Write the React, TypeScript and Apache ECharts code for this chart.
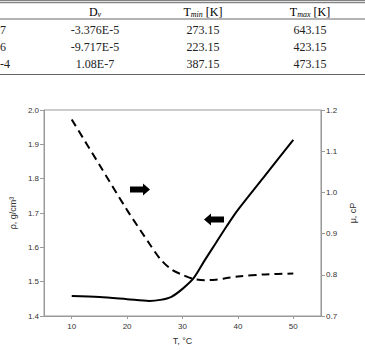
import React, { useEffect, useRef } from "react";
import * as echarts from "echarts";

// Table (top, partially cropped)
const tableLeftCol = ["7", "6", "-4"];
const tableDv = ["-3.376E-5", "-9.717E-5", "1.08E-7"];
const tableTmin = ["273.15", "223.15", "387.15"];
const tableTmax = ["643.15", "423.15", "473.15"];

// Chart data
const tempC = [10, 15, 20, 24, 26, 28, 30, 32, 34, 36, 38, 40, 45, 50];
const density = [1.458, 1.455, 1.449, 1.444, 1.447, 1.456, 1.479, 1.51, 1.562, 1.612, 1.662, 1.709, 1.811, 1.913];
const viscosity = [1.177, 1.067, 0.957, 0.876, 0.838, 0.813, 0.8, 0.79, 0.787, 0.788, 0.792, 0.796, 0.801, 0.803];
const xTicks = [10, 20, 30, 40, 50];

export default function App() {
  const ref = useRef<HTMLDivElement>(null);
  useEffect(() => {
    if (!ref.current) return;
    const chart = echarts.init(ref.current, null, { renderer: "svg" });
    const serif = "Liberation Serif";
    const sans = "Liberation Sans";
    const rowY = [30, 47, 64];
    const tText: any[] = [];
    const rich = {
      a: { fontFamily: serif, fontSize: 12, color: "#222" },
      s: { fontFamily: serif, fontSize: 8, fontStyle: "italic", color: "#222", padding: [5, 0, 0, 0] },
    };
    const header = [
      { x: 95, t: "{a|D}{s|v}" },
      { x: 203, t: "{a|T}{s|min}{a| [K]}" },
      { x: 310, t: "{a|T}{s|max}{a| [K]}" },
    ];
    header.forEach((h) =>
      tText.push({ type: "text", x: h.x, y: 12, style: { text: h.t, rich, align: "center", verticalAlign: "middle" } })
    );
    rowY.forEach((y, i) => {
      const st = { fontFamily: serif, fontSize: 12, fill: "#222", verticalAlign: "middle" };
      tText.push({ type: "text", x: 0, y, style: { ...st, text: tableLeftCol[i], align: "left" } });
      tText.push({ type: "text", x: 95, y, style: { ...st, text: tableDv[i], align: "center" } });
      tText.push({ type: "text", x: 203, y, style: { ...st, text: tableTmin[i], align: "center" } });
      tText.push({ type: "text", x: 310, y, style: { ...st, text: tableTmax[i], align: "center" } });
    });
    const hline = (y: number, w = 1) => ({
      type: "line",
      shape: { x1: 0, y1: y, x2: 365, y2: y },
      style: { stroke: "#666", lineWidth: w },
    });
    chart.setOption({
      animation: false,
      backgroundColor: "#fff",
      grid: { left: 40, right: 39, top: 110, bottom: 34, show: true, borderColor: "#999", borderWidth: 1 },
      xAxis: {
        type: "value",
        min: 5,
        max: 55,
        name: "T, °C",
        nameLocation: "middle",
        nameGap: 20,
        nameTextStyle: { fontFamily: sans, fontSize: 9, color: "#333" },
        axisLine: { lineStyle: { color: "#999" } },
        axisTick: { customValues: xTicks, length: 3, lineStyle: { color: "#999" } },
        axisLabel: { customValues: xTicks, fontFamily: sans, fontSize: 8, color: "#333", margin: 6 },
        splitLine: { show: false },
      },
      yAxis: [
        {
          type: "value",
          min: 1.4,
          max: 2.0,
          interval: 0.1,
          name: "ρ, g/cm³",
          nameLocation: "middle",
          nameGap: 24,
          nameTextStyle: { fontFamily: sans, fontSize: 9, color: "#333" },
          axisLine: { show: true, lineStyle: { color: "#999" } },
          axisTick: { show: true, length: 4, lineStyle: { color: "#999" } },
          axisLabel: { fontFamily: sans, fontSize: 8, color: "#333", margin: 5, formatter: (v: number) => v.toFixed(1) },
          splitLine: { show: false },
        },
        {
          type: "value",
          min: 0.7,
          max: 1.2,
          interval: 0.1,
          name: "μ, cP",
          nameLocation: "middle",
          nameGap: 24,
          nameTextStyle: { fontFamily: sans, fontSize: 9, color: "#333" },
          axisLine: { show: true, lineStyle: { color: "#999" } },
          axisTick: { show: true, length: 4, lineStyle: { color: "#999" } },
          axisLabel: { fontFamily: sans, fontSize: 8, color: "#333", margin: 5, formatter: (v: number) => v.toFixed(1) },
          splitLine: { show: false },
        },
      ],
      series: [
        {
          type: "line",
          yAxisIndex: 0,
          data: tempC.map((t, i) => [t, density[i]]),
          smooth: 0.3,
          showSymbol: false,
          lineStyle: { color: "#000", width: 2 },
        },
        {
          type: "line",
          yAxisIndex: 1,
          data: tempC.map((t, i) => [t, viscosity[i]]),
          smooth: 0.3,
          showSymbol: false,
          lineStyle: { color: "#000", width: 2, type: [8, 5] },
        },
      ],
      graphic: [
        hline(0.7),
        hline(2.7),
        hline(19),
        hline(74.5, 1.2),
        ...tText,
        {
          type: "polygon",
          shape: { points: [[130, 186.5], [143, 186.5], [143, 183.5], [150, 189.5], [143, 195.5], [143, 192.5], [130, 192.5]] },
          style: { fill: "#000" },
        },
        {
          type: "polygon",
          shape: { points: [[224, 216.5], [211, 216.5], [211, 213.5], [204, 219.5], [211, 225.5], [211, 222.5], [224, 222.5]] },
          style: { fill: "#000" },
        },
      ],
    });
    return () => chart.dispose();
  }, []);
  return <div ref={ref} style={{ position: "fixed", left: 0, top: 0, width: 365, height: 350 }} />;
}
